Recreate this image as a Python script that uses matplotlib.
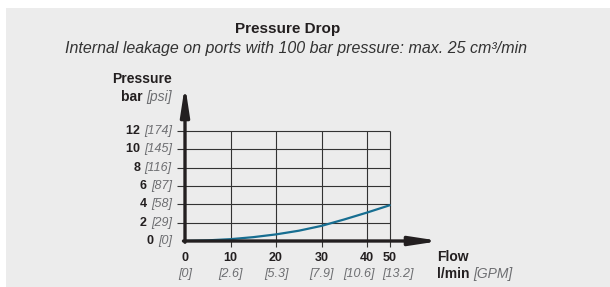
import numpy as np
import matplotlib
matplotlib.use('Agg')
import matplotlib.pyplot as plt
from matplotlib.patches import Rectangle

plt.rcParams['font.family'] = ['Liberation Sans', 'DejaVu Sans']

# chart data
flow_ticks = [0, 10, 20, 30, 40, 50]
gpm_labels = ['[0]', '[2.6]', '[5.3]', '[7.9]', '[10.6]', '[13.2]']
bar_ticks = [0, 2, 4, 6, 8, 10, 12]
psi_labels = ['[0]', '[29]', '[58]', '[87]', '[116]', '[145]', '[174]']
flow = [0, 5, 10, 15, 20, 25, 30, 35, 40, 45, 50]
pressure = [0, 0.07, 0.2, 0.42, 0.72, 1.12, 1.65, 2.35, 3.1, 3.5, 3.9]

DARK = '#231f20'
GREY = '#6d6e71'
LINE = '#176e91'
BG = '#ececec'


# the flow axis is compressed above 40 l/min (40->50 takes half a step)
def fwd(v):
    v = np.asarray(v, dtype=float)
    return np.where(v <= 40, v, 40 + (v - 40) * 0.5)


def inv(p):
    p = np.asarray(p, dtype=float)
    return np.where(p <= 40, p, 40 + (p - 40) * 2.0)


W, H = 610, 287
fig = plt.figure(figsize=(W / 100, H / 100), dpi=100)
fig.patch.set_facecolor('white')
fig.patches.append(Rectangle((6 / W, 0), 1 - 6 / W, 1 - 8 / H, transform=fig.transFigure,
                             facecolor=BG, edgecolor='none', zorder=-10))

fig.text(288 / W, 1 - 29 / H, 'Pressure Drop', ha='center', va='center',
         fontsize=11, fontweight='bold', color=DARK)
fig.text(296 / W, 1 - 49 / H, 'Internal leakage on ports with 100 bar pressure: max. 25 cm³/min',
         ha='center', va='center', fontsize=11.5, style='italic', color='#333333')

# axes from origin (185, 241) up to arrow tips (440, 85) in pixels
x0, y0, xt, yt = 185, 241, 440, 85
ax = fig.add_axes([x0 / W, 1 - y0 / H, (xt - x0) / W, (y0 - yt) / H])
ax.set_xscale('function', functions=(fwd, inv))
px_per_unit = 4.55
ax.set_xlim(0, float(inv((xt - x0) / px_per_unit)))
ax.set_ylim(0, (y0 - yt) / 9.17)
ax.set_facecolor('none')
for s in ax.spines.values():
    s.set_visible(False)
ax.set_xticks([])
ax.set_yticks([])

# grid with outward tick stubs
ax.hlines(bar_ticks[1:], -8 / px_per_unit, flow_ticks[-1], color='#333333', lw=0.8, clip_on=False)
ax.vlines(flow_ticks[1:], -6 / 9.17, bar_ticks[-1], color='#333333', lw=0.8, clip_on=False)

ax.plot(flow, pressure, color=LINE, lw=1.6, solid_capstyle='round', zorder=5)

# axis arrows
arrow = dict(arrowstyle='-|>,head_length=17,head_width=2.6', color=DARK, lw=2.4,
             shrinkA=0, shrinkB=0, mutation_scale=1)
ax.annotate('', xy=(0, 1), xytext=(0, -0.008), xycoords='axes fraction', arrowprops=arrow,
            annotation_clip=False, zorder=6)
ax.annotate('', xy=(1, 0), xytext=(-0.006, 0), xycoords='axes fraction', arrowprops=arrow,
            annotation_clip=False, zorder=6)

# y tick labels: bold bar value + grey italic psi value
for b, p in zip(bar_ticks, psi_labels):
    t = ax.annotate(p, xy=(0, b), xytext=(-9.5, 0), textcoords='offset points',
                    ha='right', va='center', fontsize=9, style='italic', color=GREY,
                    annotation_clip=False)
    ax.annotate(f'{b} ', xy=(0, 0.5), xycoords=t, ha='right', va='center',
                fontsize=9, fontweight='bold', color=DARK)

# x tick labels (the last two bracket labels are nudged apart as in the original)
nudge = [0, 0, 0, 0, -6, 6]
for f, g, d in zip(flow_ticks, gpm_labels, nudge):
    ax.annotate(str(f), xy=(f, 0), xytext=(0, -12.5), textcoords='offset points',
                ha='center', va='center', fontsize=9, fontweight='bold', color=DARK,
                annotation_clip=False)
    ax.annotate(g, xy=(f, 0), xytext=(d, -23.5), textcoords='offset points',
                ha='center', va='center', fontsize=9, style='italic', color=GREY,
                annotation_clip=False)

# axis titles
fig.text(172 / W, 1 - 79 / H, 'Pressure', ha='right', va='center',
         fontsize=10, fontweight='bold', color=DARK)
t = fig.text(172 / W, 1 - 97 / H, '[psi]', ha='right', va='center',
             fontsize=10, style='italic', color=GREY)
ax.annotate('bar ', xy=(0, 0.5), xycoords=t, ha='right', va='center',
            fontsize=10, fontweight='bold', color=DARK)

fig.text(437 / W, 1 - 257 / H, 'Flow', ha='left', va='center',
         fontsize=10, fontweight='bold', color=DARK)
t = fig.text(437 / W, 1 - 274 / H, 'l/min ', ha='left', va='center',
             fontsize=10, fontweight='bold', color=DARK)
ax.annotate('[GPM]', xy=(1, 0.5), xycoords=t, ha='left', va='center',
            fontsize=10, style='italic', color=GREY)

fig.savefig('out.png', dpi=100)
